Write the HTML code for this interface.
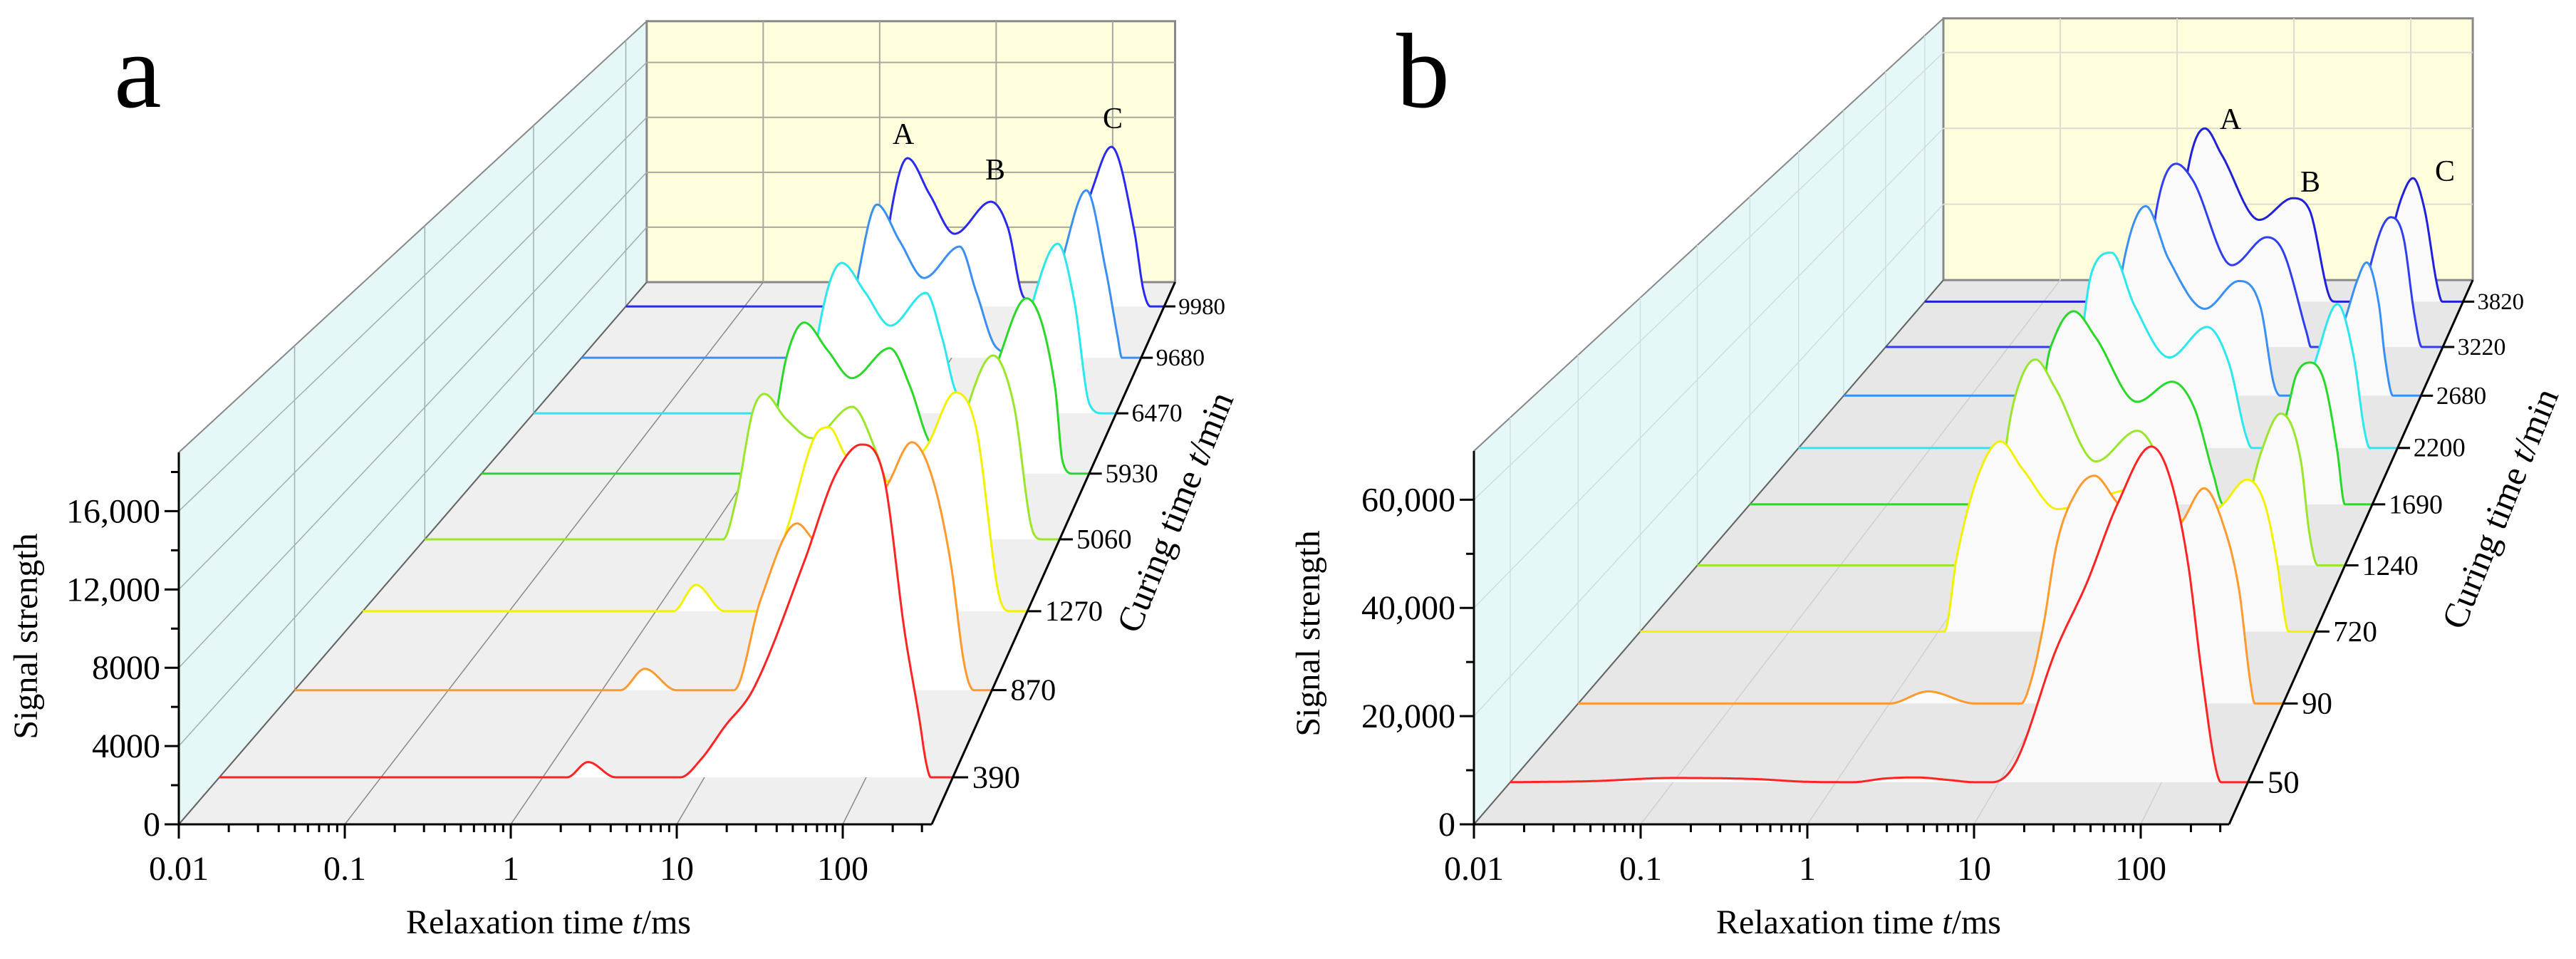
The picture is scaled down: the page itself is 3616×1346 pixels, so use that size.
<!DOCTYPE html>
<html><head><meta charset="utf-8"><title>T2 relaxation waterfall charts</title>
<style>
html,body{margin:0;padding:0;background:#fff;}
svg, svg text{font-family:"Liberation Serif", serif;}
</style></head>
<body>
<svg id="chart" xmlns="http://www.w3.org/2000/svg" width="3616" height="1341" viewBox="0 0 3616 1341" font-family="Liberation Serif, serif">
<rect x="0" y="0" width="3616" height="1341" fill="#ffffff"/>
<g id="panelA"></g>
<g id="panelB"></g>
<text x="160" y="150" font-size="150" font-family="Liberation Serif, serif">a</text>
<text x="1960" y="150" font-size="150" font-family="Liberation Serif, serif">b</text>
<text transform="translate(52,893) rotate(-90)" text-anchor="middle" font-size="48" font-family="Liberation Serif, serif">Signal strength</text>
<text x="770" y="1310" text-anchor="middle" font-size="48" font-family="Liberation Serif, serif">Relaxation time <tspan font-style="italic">t</tspan>/ms</text>
<text transform="translate(1665,725) rotate(-68)" text-anchor="middle" font-size="50" font-family="Liberation Serif, serif">Curing time <tspan font-style="italic">t</tspan>/min</text>
<text transform="translate(1852,889) rotate(-90)" text-anchor="middle" font-size="48" font-family="Liberation Serif, serif">Signal strength</text>
<text x="2609" y="1310" text-anchor="middle" font-size="48" font-family="Liberation Serif, serif">Relaxation time <tspan font-style="italic">t</tspan>/ms</text>
<text transform="translate(3525,720) rotate(-68)" text-anchor="middle" font-size="50" font-family="Liberation Serif, serif">Curing time <tspan font-style="italic">t</tspan>/min</text>
<text x="1268" y="202" text-anchor="middle" font-size="42" font-family="Liberation Serif, serif">A</text>
<text x="1397" y="252" text-anchor="middle" font-size="42" font-family="Liberation Serif, serif">B</text>
<text x="1562" y="180" text-anchor="middle" font-size="42" font-family="Liberation Serif, serif">C</text>
<text x="3131" y="181" text-anchor="middle" font-size="42" font-family="Liberation Serif, serif">A</text>
<text x="3243" y="269" text-anchor="middle" font-size="42" font-family="Liberation Serif, serif">B</text>
<text x="3432" y="254" text-anchor="middle" font-size="42" font-family="Liberation Serif, serif">C</text>
</svg>
<script>
// ---------- Panel a data ----------
const catsA = ['390','870','1270','5060','5930','6470','9680','9980'];
const colorsA = ['#ff2424','#ff9a2e','#f2f200','#9ae62a','#2ad82a','#2ae8ee','#3a8ff2','#2a2aee'];
const yTicksA = [0,4000,8000,12000,16000];
const yTickLabelsA = ['0','4000','8000','12,000','16,000'];
const xTickLabels = ['0.01','0.1','1','10','100'];
const a390 = [[-2,0],[0.15,0],[0.28,800],[0.45,0],[0.85,0],[0.98,958],[1.124,2650],[1.30,4597],[1.617,11320],[1.811,15880],[1.97,17450],[2.106,15880],[2.24,7510],[2.33,3000],[2.37,800],[2.40,0],[2.536,0]];
const a870 = [[-2,0],[0.12,0],[0.278,1179],[0.482,0],[0.857,0],[1.033,5030],[1.269,9196],[1.408,8135],[1.645,9000],[1.853,11280],[2.015,13676],[2.141,11908],[2.266,7113],[2.358,1336],[2.418,0],[2.536,0]];
const a1270 = [[-2,0],[0.119,0],[0.274,1526],[0.469,0],[0.697,0],[0.901,4908],[1.096,10269],[1.183,10640],[1.295,9032],[1.55,7500],[1.845,9500],[2.044,12661],[2.185,10640],[2.355,536],[2.423,0],[2.536,0]];
const a5060 = [[-2,0],[0.131,0],[0.223,2374],[0.345,7800],[0.427,8807],[0.58,7300],[0.768,6130],[1.053,8030],[1.231,5180],[1.302,3410],[1.5,1200],[1.65,2000],[1.8,6000],[2.06,11138],[2.208,8159],[2.346,430],[2.411,0],[2.536,0]];
const a5930 = [[-2,0],[0.133,0],[0.218,4700],[0.276,7350],[0.409,9563],[0.584,7800],[0.765,6045],[1.047,7939],[1.2,5500],[1.334,2165],[1.5,800],[1.65,2000],[1.85,7000],[2.068,11097],[2.281,5503],[2.339,722],[2.414,0],[2.536,0]];
const a6470 = [[-2,0],[0.14,0],[0.217,5363],[0.4,9925],[0.58,8000],[0.778,5786],[1.055,7950],[1.18,5000],[1.293,1364],[1.5,500],[1.65,1500],[1.8,5000],[2.081,11195],[2.208,7480],[2.33,564],[2.43,0],[2.536,0]];
const a9680 = [[-2,0],[0.14,0],[0.25,6000],[0.395,10529],[0.58,8000],[0.776,5485],[1.065,7640],[1.2,4500],[1.359,735],[1.5,300],[1.65,800],[1.77,1500],[1.92,7440],[2.092,11508],[2.25,6000],[2.346,1420],[2.38,0],[2.536,0]];
const a9980 = [[-2,0],[0.14,0],[0.23,6465],[0.374,10590],[0.56,8000],[0.77,5190],[1.076,7480],[1.22,5600],[1.352,660],[1.49,200],[1.65,1000],[1.73,2500],[1.935,8500],[2.091,11400],[2.283,5447],[2.361,1170],[2.42,0],[2.536,0]];

// ---------- Panel b data ----------
const catsB = ['50','90','720','1240','1690','2200','2680','3220','3820'];
const colorsB = ['#ff2424','#ff9a2e','#f2f200','#9ae62a','#2ad82a','#2ae8ee','#3a8ff2','#2f3ff0','#2020d8'];
const yTicksB = [0,20000,40000,60000];
const yTickLabelsB = ['0','20,000','40,000','60,000'];
const b50 = [[-2,0],[-1.5,200],[-1.0,800],[-0.5,600],[-0.2,100],[0.1,0],[0.3,700],[0.49,900],[0.7,400],[0.85,0],[0.957,0],[1.097,3370],[1.35,24940],[1.539,37600],[1.73,52700],[1.937,63500],[2.045,58230],[2.16,41800],[2.247,20350],[2.33,3000],[2.365,0],[2.53,0]];
const b90 = [[-2,0],[0.0,0],[0.25,2400],[0.55,0],[0.846,0],[0.905,3950],[0.988,15230],[1.075,31500],[1.203,42000],[1.317,45100],[1.45,40300],[1.7,30000],[1.88,36000],[2.022,42600],[2.142,35700],[2.247,22400],[2.32,4000],[2.348,0],[2.53,0]];
const b720 = [[-2,0],[0.04,0],[0.125,15600],[0.269,32400],[0.417,39300],[0.565,33600],[0.80,25300],[1.1,28000],[1.4,30000],[1.7,22000],[1.9,26000],[2.071,31400],[2.19,26400],[2.272,14400],[2.33,2000],[2.35,0],[2.53,0]];
const b1240 = [[-2,0],[0.05,0],[0.12,14000],[0.165,27000],[0.23,37150],[0.365,44360],[0.50,38400],[0.788,22400],[1.077,29000],[1.18,25800],[1.45,3000],[1.6,500],[1.75,3000],[1.95,25000],[2.08,32700],[2.22,22700],[2.28,7060],[2.34,0],[2.53,0]];
const b1690 = [[-2,0],[0.06,0],[0.12,18000],[0.159,30840],[0.216,37400],[0.356,43300],[0.517,37400],[0.818,23000],[1.072,27500],[1.233,21700],[1.373,6700],[1.445,0],[1.6,0],[1.75,5000],[1.907,20450],[1.975,28900],[2.078,31800],[2.18,27600],[2.275,12000],[2.33,0],[2.53,0]];
const b2200 = [[-2,0],[0.07,0],[0.12,15000],[0.162,30500],[0.221,41300],[0.367,45500],[0.54,33200],[0.804,21100],[1.089,28200],[1.256,19600],[1.38,3300],[1.428,0],[1.62,0],[1.75,4000],[1.908,20250],[2.075,33500],[2.199,21100],[2.28,4000],[2.32,0],[2.53,0]];
const b2680 = [[-2,0],[0.08,0],[0.14,20000],[0.214,34800],[0.37,45800],[0.55,33000],[0.834,21000],[1.10,27700],[1.27,21500],[1.376,2750],[1.426,0],[1.62,0],[1.8,6000],[1.95,20000],[2.03,27900],[2.103,32200],[2.2,22000],[2.248,9100],[2.31,0],[2.53,0]];
const b3220 = [[-2,0],[0.09,0],[0.14,18000],[0.207,35200],[0.363,45900],[0.497,41800],[0.815,20500],[1.10,27500],[1.232,23900],[1.423,3600],[1.458,0],[1.65,0],[1.85,8000],[1.95,21400],[2.04,30200],[2.107,32500],[2.21,27500],[2.30,8000],[2.36,0],[2.53,0]];
const b3820 = [[-2,0],[0.1,0],[0.16,20000],[0.22,35100],[0.358,44900],[0.5,38000],[0.814,21200],[1.096,26800],[1.234,24000],[1.408,1100],[1.455,0],[1.68,0],[1.85,9000],[2.013,27000],[2.109,32000],[2.205,24000],[2.312,4250],[2.355,0],[2.53,0]];

const NS = 'http://www.w3.org/2000/svg';
const FONT = 'Liberation Serif, serif';
function nm(el, name, inter) {
  
  
  return el;
}
function mk(parent, tag, attrs) {
  const el = document.createElementNS(NS, tag);
  for (const k in attrs) el.setAttribute(k, attrs[k]);
  parent.appendChild(el);
  return el;
}
function monotone(pts) {
  const n = pts.length, xs = pts.map(p => p[0]), ys = pts.map(p => p[1]);
  const d = [], m = new Array(n);
  for (let i = 0; i < n - 1; i++) d.push((ys[i+1]-ys[i])/(xs[i+1]-xs[i]));
  m[0] = d[0]; m[n-1] = d[n-2];
  for (let i = 1; i < n - 1; i++) m[i] = (d[i-1]*d[i] <= 0) ? 0 : (d[i-1]+d[i])/2;
  for (let i = 0; i < n - 1; i++) {
    if (d[i] === 0) { m[i] = 0; m[i+1] = 0; continue; }
    const a = m[i]/d[i], b = m[i+1]/d[i], h = a*a + b*b;
    if (h > 9) { const t = 3/Math.sqrt(h); m[i] = t*a*d[i]; m[i+1] = t*b*d[i]; }
  }
  return function(x) {
    let i = 0;
    while (i < n - 2 && x > xs[i+1]) i++;
    const hh = xs[i+1]-xs[i], t = Math.min(1, Math.max(0, (x-xs[i])/hh));
    const t2 = t*t, t3 = t2*t;
    return (2*t3-3*t2+1)*ys[i] + (t3-2*t2+t)*hh*m[i] + (-2*t3+3*t2)*ys[i+1] + (t3-t2)*hh*m[i+1];
  };
}

function drawPanel(P) {
  const g = document.getElementById(P.id);
  const proj = (lt, v, z) => {
    const fx = P.X0 + (lt + 2) * P.D, fy = P.Y0 - v / P.ymax * P.H;
    const s = 1 / (1 + P.k * z);
    return [P.Vx + (fx - P.Vx) * s, P.Vy + (fy - P.Vy) * s];
  };
  const ps = a => a.map(p => p[0].toFixed(1) + ',' + p[1].toFixed(1)).join(' ');
  const L = -2, R = P.ltmax, n = P.cats.length;
  let el;
  el = mk(g, 'polygon', {points: ps([proj(L,0,0),proj(R,0,0),proj(R,0,1),proj(L,0,1)]), fill: P.floor, stroke: 'none'});
  nm(el, P.pfx + 'floor');
  el = mk(g, 'polygon', {points: ps([proj(L,0,0),proj(L,P.ymax,0),proj(L,P.ymax,1),proj(L,0,1)]), fill: '#e6f7f7', stroke: '#888', 'stroke-width': 2});
  nm(el, P.pfx + 'side-wall');
  el = mk(g, 'polygon', {points: ps([proj(L,0,1),proj(R,0,1),proj(R,P.ymax,1),proj(L,P.ymax,1)]), fill: '#fefedc', stroke: '#888', 'stroke-width': 3});
  nm(el, P.pfx + 'back-wall');
  for (let d = -1; d <= 2; d++) {
    let a = proj(d,0,1), b = proj(d,P.ymax,1);
    el = mk(g, 'line', {x1: a[0], y1: a[1], x2: b[0], y2: b[1], stroke: P.grid, 'stroke-width': 2});
    nm(el, P.pfx + 'back-grid-vertical');
    a = proj(d,0,0);
    el = mk(g, 'line', {x1: a[0], y1: a[1], x2: proj(d,0,1)[0], y2: proj(d,0,1)[1], stroke: P.floorGrid, 'stroke-width': 1.5});
    nm(el, P.pfx + 'floor-grid-line');
  }
  P.yTicks.forEach(v => {
    if (v === 0) return;
    let a = proj(L,v,1), b = proj(R,v,1);
    el = mk(g, 'line', {x1: a[0], y1: a[1], x2: b[0], y2: b[1], stroke: P.grid, 'stroke-width': 2});
    nm(el, P.pfx + 'back-grid-horizontal');
    a = proj(L,v,0);
    el = mk(g, 'line', {x1: a[0], y1: a[1], x2: proj(L,v,1)[0], y2: proj(L,v,1)[1], stroke: P.wallGrid, 'stroke-width': 1.5});
    nm(el, P.pfx + 'side-wall-grid-line');
  });
  for (let i = 0; i < n; i++) {
    if (P.wallStep === 2 && i % 2 === 0) continue;
    const z = (i + 0.5) / n, a = proj(L,0,z), b = proj(L,P.ymax,z);
    el = mk(g, 'line', {x1: a[0], y1: a[1], x2: b[0], y2: b[1], stroke: P.wallGrid, 'stroke-width': 1.5});
    nm(el, P.pfx + 'side-wall-depth-line');
  }
  el = mk(g, 'line', {x1: proj(L,0,0)[0], y1: proj(L,0,0)[1], x2: proj(L,0,1)[0], y2: proj(L,0,1)[1], stroke: '#666', 'stroke-width': 2});
  nm(el, P.pfx + 'floor-left-edge');
  for (let i = n - 1; i >= 0; i--) {
    const z = (i + 0.5) / n, f = monotone(P.series[i]), pts = [];
    for (let lt = L; lt <= R + 1e-9; lt += 0.005) pts.push(proj(lt, Math.max(0, f(lt)), z));
    pts.push(proj(R, Math.max(0, f(R)), z));
    const base = [proj(R,0,z), proj(L,0,z)];
    el = mk(g, 'polygon', {points: ps(pts.concat(base)), fill: P.fill, stroke: 'none'});
    nm(el, P.pfx + 'series-fill-' + P.cats[i]);
    el = mk(g, 'polyline', {points: ps(pts), fill: 'none', stroke: P.colors[i], 'stroke-width': 3, 'stroke-linejoin': 'round'});
    nm(el, P.pfx + 'series-line-' + P.cats[i]);
  }
  const o = proj(L,0,0), e = proj(R,0,0);
  el = mk(g, 'line', {x1: o[0], y1: o[1], x2: e[0], y2: e[1], stroke: '#000', 'stroke-width': 3});
  nm(el, P.pfx + 'x-axis-line');
  for (let d = -2; d <= 2; d++) {
    for (let m = 1; m <= 9; m++) {
      const lt = d + Math.log10(m);
      if (lt > R + 1e-6) continue;
      const p = proj(lt,0,0), len = m === 1 ? 20 : 11;
      el = mk(g, 'line', {x1: p[0], y1: p[1], x2: p[0], y2: p[1] + len, stroke: '#000', 'stroke-width': 3});
      nm(el, m === 1 ? P.pfx + 'x-major-tick' : P.pfx + 'x-minor-tick');
    }
    const p = proj(d,0,0);
    el = mk(g, 'text', {x: p[0], y: p[1] + 78, 'text-anchor': 'middle', 'font-size': 48, 'font-family': FONT});
    el.textContent = xTickLabels[d + 2];
    nm(el, P.pfx + 'x-tick-label');
  }
  const t = proj(L,P.ymax,0);
  el = mk(g, 'line', {x1: o[0], y1: o[1], x2: t[0], y2: t[1], stroke: '#000', 'stroke-width': 3});
  nm(el, P.pfx + 'y-axis-line');
  for (let v = 0; v <= P.ymax; v += P.yMinor) {
    const p = proj(L,v,0), major = P.yTicks.indexOf(v) >= 0;
    el = mk(g, 'line', {x1: p[0] - (major ? 20 : 11), y1: p[1], x2: p[0], y2: p[1], stroke: '#000', 'stroke-width': 3});
    nm(el, major ? P.pfx + 'y-major-tick' : P.pfx + 'y-minor-tick');
  }
  P.yTicks.forEach((v, j) => {
    const p = proj(L,v,0);
    el = mk(g, 'text', {x: p[0] - 26, y: p[1] + 16, 'text-anchor': 'end', 'font-size': 48, 'font-family': FONT});
    el.textContent = P.yLabels[j];
    nm(el, P.pfx + 'y-tick-label');
  });
  const bk = proj(R,0,1);
  el = mk(g, 'line', {x1: e[0], y1: e[1], x2: bk[0], y2: bk[1], stroke: '#000', 'stroke-width': 3});
  nm(el, P.pfx + 'depth-axis-line');
  for (let i = 0; i < n; i++) {
    const z = (i + 0.5) / n, s = 1 / (1 + P.k * z), p = proj(R,0,z);
    el = mk(g, 'line', {x1: p[0], y1: p[1], x2: p[0] + 22 * s, y2: p[1], stroke: '#000', 'stroke-width': 3});
    nm(el, P.pfx + 'depth-tick');
    el = mk(g, 'text', {x: p[0] + 28 * s, y: p[1] + 15 * s, 'font-size': (46 * s).toFixed(1), 'font-family': FONT});
    el.textContent = P.cats[i];
    nm(el, P.pfx + 'depth-tick-label');
  }
}

drawPanel({id: 'panelA', pfx: 'a-', X0: 251, D: 233, Y0: 1157, H: 522, ymax: 19000, Vx: 2453, Vy: -1394, k: 0.4251, ltmax: 2.536,
  cats: catsA, colors: colorsA, series: [a390, a870, a1270, a5060, a5930, a6470, a9680, a9980],
  yTicks: yTicksA, yLabels: yTickLabelsA, yMinor: 2000, floor: '#efefef', fill: '#ffffff',
  grid: '#a8a8a0', floorGrid: '#8a8a8a', wallGrid: '#a0b0b0', wallStep: 2});
drawPanel({id: 'panelB', pfx: 'b-', X0: 2069, D: 234, Y0: 1157, H: 524, ymax: 69000, Vx: 4273, Vy: -1398, k: 0.4265, ltmax: 2.53,
  cats: catsB, colors: colorsB, series: [b50, b90, b720, b1240, b1690, b2200, b2680, b3220, b3820],
  yTicks: yTicksB, yLabels: yTickLabelsB, yMinor: 10000, floor: '#e7e7e7', fill: '#fafafa',
  grid: '#dcdcd0', floorGrid: '#d0d0d0', wallGrid: '#cfdede', wallStep: 1});
</script>
</body></html>
